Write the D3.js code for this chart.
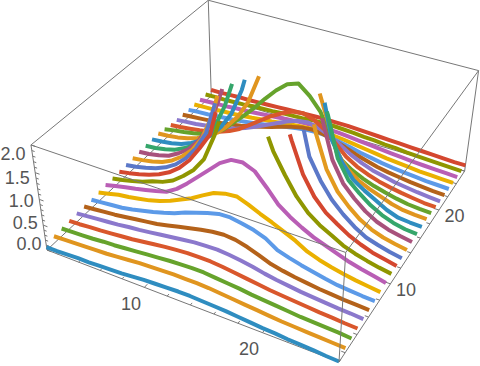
<!DOCTYPE html>
<html><head><meta charset="utf-8">
<script src="https://cdnjs.cloudflare.com/ajax/libs/d3/7.8.5/d3.min.js"></script>
<style>html,body{margin:0;padding:0;background:#fff}svg{display:block}</style>
</head><body><svg id="c" width="480" height="366"></svg>
<script>
const xGrid = d3.range(1, 27);
const yGrid = d3.range(1, 27);
const palette = ["#2f8dc0","#e0951f","#66a32c","#d9572c","#8b78cc","#b4621a","#5c9ae8","#eab000","#b95eb5","#8f9600","#d4472f","#5b78c8","#e39a1e","#a8527c","#35a66b"];
const xTicks = [2,4,6,8,10,12,14,16,18,20,22,24,26];
const yTicks = [2,4,6,8,10,12,14,16,18,20,22,24,26];
const zTicks = d3.range(0, 21).map(d => d / 10);
const xLabels = [10, 20];
const yLabels = [10, 20];
const zLabels = [0, 0.5, 1, 1.5, 2];
const zClip = 2;

const row01 = [.06,.06,.07,.08,.08,.09,.10,.11,.13,.15,.16,.17,.18,.18,.17,.16,.15,.13,.11,.09,.08,.06,.05,.04,.02,.01];
const row02 = [.13,.14,.15,.16,.17,.18,.20,.22,.24,.25,.26,.27,.27,.27,.26,.24,.22,.20,.18,.16,.14,.13,.12,.11,.10,.09];
const row03 = [.14,.15,.16,.17,.19,.20,.22,.24,.26,.28,.30,.31,.32,.32,.30,.28,.26,.23,.21,.19,.17,.15,.14,.13,.12,.10];
const row04 = [.15,.16,.18,.19,.21,.23,.25,.28,.31,.34,.36,.38,.38,.38,.36,.33,.30,.27,.24,.22,.20,.18,.16,.15,.13,.12];
const row05 = [.16,.18,.20,.22,.24,.27,.29,.32,.35,.38,.41,.44,.45,.46,.44,.41,.37,.32,.28,.25,.22,.20,.18,.16,.15,.13];
const row06 = [.16,.18,.20,.22,.25,.28,.31,.34,.39,.44,.49,.54,.58,.60,.58,.52,.44,.35,.30,.26,.23,.20,.18,.16,.15,.14];
const row07 = [.16,.18,.20,.22,.26,.31,.36,.42,.49,.58,.65,.72,.78,.79,.75,.70,.62,.47,.40,.34,.29,.24,.20,.18,.16,.15];
const row08 = [.17,.22,.27,.30,.34,.38,.44,.52,.62,.72,.85,.97,1.03,1.05,.97,.87,.78,.68,.58,.45,.37,.31,.26,.22,.19,.16];
const row09 = [.19,.24,.29,.33,.38,.43,.49,.62,.80,1.0,1.2,1.4,1.53,1.55,1.46,1.23,.98,.82,.69,.58,.50,.42,.34,.28,.23,.18];
const row10 = [.19,.23,.28,.34,.42,.48,.58,.74,.93,1.21,1.72,2.35,2.7,2.7,2.3,1.77,1.40,1.07,.83,.67,.55,.43,.35,.29,.24,.20];
const row11 = [.20,.24,.29,.35,.43,.54,.70,.92,1.22,1.55,2.35,2.9,3.2,3.2,3.0,2.5,1.9,1.35,1.0,.77,.62,.48,.38,.30,.25,.20];
const row12 = [.21,.24,.29,.35,.44,.57,.76,1.02,1.38,2.05,2.7,3.2,3.5,3.6,3.4,3.0,2.4,1.55,1.17,.88,.67,.50,.37,.30,.24,.20];
const row13 = [.22,.25,.29,.35,.45,.60,.80,1.10,1.6,2.35,3.0,3.5,3.9,4.0,3.8,3.3,2.7,1.85,1.25,.90,.68,.50,.38,.30,.25,.21];
const row14 = [.23,.25,.29,.35,.47,.62,.85,1.2,1.75,2.4,3.0,3.5,3.9,4.0,3.8,3.3,2.7,2.0,1.3,.92,.70,.52,.39,.31,.26,.22];
const row15 = [.23,.25,.29,.35,.45,.58,.78,1.08,1.55,2.2,2.8,3.3,3.6,3.7,3.5,3.0,2.5,1.95,1.2,.85,.66,.50,.38,.30,.25,.23];
const row16 = [.24,.26,.29,.34,.43,.55,.72,.96,1.28,1.8,2.55,3.0,3.2,3.3,3.1,2.7,2.2,1.35,.98,.72,.58,.46,.34,.26,.24,.23];
const row17 = [.24,.26,.29,.34,.41,.50,.65,.85,1.1,1.45,2.0,2.5,2.8,2.85,2.65,2.2,1.6,1.0,.74,.58,.48,.40,.32,.27,.25,.24];
const row18 = [.21,.25,.28,.32,.37,.45,.59,.80,1.0,1.22,1.46,1.68,1.86,1.93,1.76,1.52,1.10,.72,.58,.48,.40,.34,.29,.25,.23,.22];
const row19 = [.18,.20,.23,.26,.30,.36,.44,.55,.70,.85,1.0,1.12,1.22,1.25,1.18,1.05,.85,.65,.52,.43,.36,.31,.27,.24,.21,.20];
const row20 = [.17,.19,.21,.24,.27,.31,.37,.45,.54,.64,.74,.84,.92,.95,.90,.81,.69,.56,.46,.38,.33,.28,.25,.22,.20,.18];
const row21 = [.16,.18,.20,.22,.24,.27,.31,.36,.42,.48,.55,.61,.66,.68,.65,.59,.52,.44,.38,.32,.28,.25,.22,.20,.18,.17];
const row22 = [.15,.17,.18,.20,.22,.24,.27,.30,.34,.38,.42,.46,.49,.50,.48,.44,.40,.35,.31,.27,.24,.22,.20,.18,.17,.16];
const row23 = [.15,.16,.17,.19,.20,.22,.24,.27,.29,.32,.35,.37,.39,.40,.38,.36,.33,.30,.27,.24,.22,.20,.18,.17,.16,.15];
const row24 = [.14,.15,.16,.17,.19,.20,.22,.24,.26,.28,.30,.31,.33,.33,.32,.30,.28,.26,.24,.22,.20,.18,.17,.16,.15,.14];
const row25 = [.14,.15,.15,.16,.17,.19,.20,.21,.23,.24,.25,.27,.28,.28,.27,.26,.24,.23,.21,.20,.18,.17,.16,.15,.14,.13];
const row26 = [.13,.13,.14,.15,.15,.16,.17,.18,.19,.20,.21,.22,.22,.22,.22,.21,.20,.19,.18,.17,.16,.15,.14,.13,.12,.12];
const rows = [row01,row02,row03,row04,row05,row06,row07,row08,row09,row10,row11,row12,row13,row14,row15,row16,row17,row18,row19,row20,row21,row22,row23,row24,row25,row26];

// data -> unit cube
const sx = d3.scaleLinear().domain([1, 26]).range([0, 1]);
const sy = d3.scaleLinear().domain([1, 26]).range([0, 1]);
const sz = d3.scaleLinear().domain([0, 2]).range([0, 1]);
// unit cube -> screen (perspective view of the box)
function project(u, v, t) {
  const w = 1 - 0.11 * u + 0.207 * v - 0.07 * t;
  return [(47 + 254.7 * u + 208 * v - 18.2 * t) / w,
          (250 + 72.2 * u - 134.5 * v - 115.2 * t) / w];
}
const svg = d3.select("#c");
const gray = "#777";
const edge = (g, a, b, w) => {
  const p = project(...a), q = project(...b);
  g.append("line").attr("x1", p[0]).attr("y1", p[1]).attr("x2", q[0]).attr("y2", q[1])
    .attr("stroke", gray).attr("stroke-width", w || 1);
};

// back part of the box and ticks
const back = svg.append("g");
[[[0,0,0],[1,0,0]],[[1,0,0],[1,1,0]],[[1,1,0],[0,1,0]],[[0,1,0],[0,0,0]],
 [[0,0,0],[0,0,1]],[[0,1,0],[0,1,1]],[[1,1,0],[1,1,1]],
 [[0,0,1],[0,1,1]],[[0,1,1],[1,1,1]]].forEach(e => edge(back, e[0], e[1]));
xTicks.forEach(d => edge(back, [sx(d),0,0], [sx(d), xLabels.includes(d) ? 0.016 : 0.01, 0]));
yTicks.forEach(d => edge(back, [1,sy(d),0], [yLabels.includes(d) ? 0.982 : 0.988, sy(d), 0]));
zTicks.forEach(d => edge(back, [0,0,sz(d)], [Math.round(d*10)%5===0 ? 0.016 : 0.01, 0, sz(d)]));

// lines, back row first; parts above the top of the box are cut away
const line = d3.line().defined(d => d.z <= zClip).x(d => project(sx(d.x), sy(d.y), sz(d.z))[0]).y(d => project(sx(d.x), sy(d.y), sz(d.z))[1]);
function clipped(vals, y) {
  const out = [];
  vals.forEach((z, i) => {
    if (i > 0 && (vals[i-1] - zClip) * (z - zClip) < 0) {
      const f = (zClip - vals[i-1]) / (z - vals[i-1]);
      out.push({x: xGrid[i-1] + f, y, z: zClip});
    }
    out.push({x: xGrid[i], y, z});
  });
  return out;
}
svg.append("g").selectAll("path").data(rows.map((r, j) => ({r, j})).reverse()).join("path")
  .attr("fill", "none").attr("stroke-width", 4).attr("stroke-linejoin", "round").attr("stroke-linecap", "butt")
  .attr("stroke", d => palette[d.j % palette.length])
  .attr("d", d => line(clipped(d.r, yGrid[d.j])));

// front part of the box
const front = svg.append("g");
[[[0,0,1],[1,0,1]],[[1,0,1],[1,1,1]],[[1,0,0],[1,0,1]]].forEach(e => edge(front, e[0], e[1]));

// labels
const txt = svg.append("g").attr("font-family", "Liberation Sans, Arial, sans-serif").attr("font-size", 18).attr("fill", "#555");
xLabels.forEach(d => { const p = project(sx(d), 0, 0);
  txt.append("text").attr("x", p[0] - 13.5).attr("y", p[1] + 16).attr("dy", ".35em").attr("text-anchor", "middle").text(d); });
yLabels.forEach(d => { const p = project(1, sy(d), 0);
  txt.append("text").attr("x", p[0] + 15.5).attr("y", p[1] + 6).attr("dy", ".35em").attr("text-anchor", "middle").text(d); });
const zDy = d3.scaleLinear().domain([0, 2]).range([-6.5, 9]);
zLabels.forEach(d => { const p = project(0, 0, sz(d));
  txt.append("text").attr("x", p[0] - 5.5).attr("y", p[1] + zDy(d)).attr("dy", ".35em").attr("text-anchor", "end").text(d3.format(".1f")(d)); });
</script></body></html>
